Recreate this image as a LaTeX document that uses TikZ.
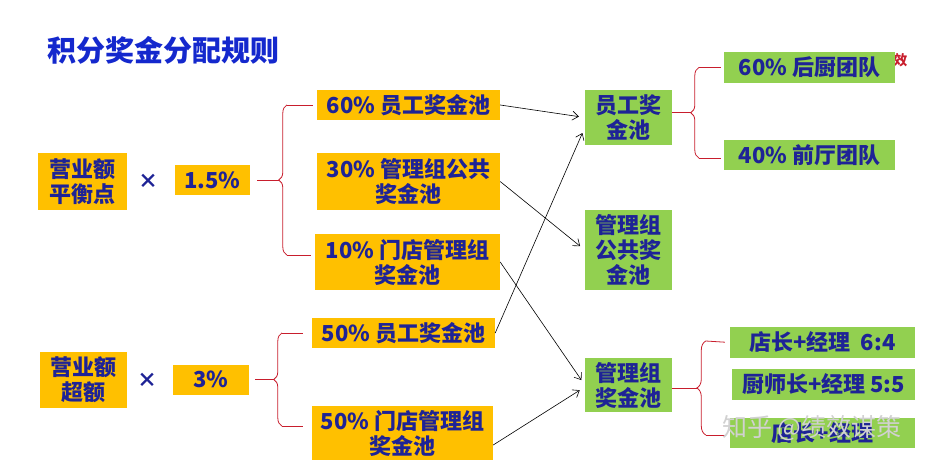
\documentclass[tikz,border=0pt]{standalone}
\usepackage{fontspec}
\setmainfont{Noto Sans CJK SC}
\usepackage{tikz}
\usetikzlibrary{
	calc,
	arrows.meta,
	decorations.pathreplacing
}
\definecolor{PoolOrange}{RGB}{255,192,0}
\definecolor{PoolGreen}{RGB}{146,208,80}
\definecolor{RuleNavy}{RGB}{30,35,150}
\definecolor{TitleBlue}{RGB}{20,40,205}
\definecolor{BraceRed}{RGB}{200,30,45}

\begin{document}
\begin{tikzpicture}[
	x=1pt,
	y=1pt,
	poolbox/.style={
		text=RuleNavy,
		font=\fontsize{22}{25}\selectfont\bfseries,
		align=center,
		inner sep=0pt,
		minimum height=30pt
	},
	orangebox/.style={poolbox,fill=PoolOrange},
	greenbox/.style={poolbox,fill=PoolGreen},
	bracered/.style={
		draw=BraceRed,
		line width=0.8pt
	},
	flow/.style={
		->,
		>={Straight Barb[length=6pt,width=9pt]},
		black,
		line width=0.6pt,
		shorten >=6pt
	}
]
				
				\useasboundingbox (0,0) rectangle (936,467);
				
				% title
				\node[
				anchor=west,
				text=TitleBlue,
				font=\fontsize{29}{32}\selectfont\bfseries
				]
				(title) at (44,417)
				{积分奖金分配规则};
				
				% left column
				\node[orangebox,minimum width=89pt,minimum height=57pt] (pt1) at (82.5,285.5) {营业额\\平衡点};
				\node[text=RuleNavy,font=\fontsize{20}{22}\selectfont\bfseries] (x1) at (148,286) {×};
				\node[orangebox,minimum width=75pt] (r1) at (212.5,287) {1.5\%};
				
				\node[orangebox,minimum width=87pt,minimum height=56pt] (pt2) at (83.5,87) {营业额\\超额};
				\node[text=RuleNavy,font=\fontsize{20}{22}\selectfont\bfseries] (x2) at (147,87) {×};
				\node[orangebox,minimum width=76pt] (r2) at (211,87.5) {3\%};
				
				% split shares
				\node[orangebox,minimum width=183pt] (a1) at (408.5,362) {60\% 员工奖金池};
				\node[orangebox,minimum width=183pt,minimum height=57pt] (a2) at (408.5,285.5) {30\% 管理组公共\\奖金池};
				\node[orangebox,minimum width=185pt,minimum height=56pt] (a3) at (407.5,205) {10\% 门店管理组\\奖金池};
				\node[orangebox,minimum width=183pt] (b1) at (403.5,134) {50\% 员工奖金池};
				\node[orangebox,minimum width=181pt,minimum height=54pt] (b2) at (402.5,34) {50\% 门店管理组\\奖金池};
				
				% pools
				\node[greenbox,minimum width=87pt,minimum height=55pt] (g1) at (628.5,349.5) {员工奖\\金池};
				\node[greenbox,minimum width=87pt,minimum height=80pt] (g2) at (628.5,217) {管理组\\公共奖\\金池};
				\node[greenbox,minimum width=87pt,minimum height=54pt] (g3) at (628.5,82) {管理组\\奖金池};
				
				% teams
				\node[
				anchor=east,
				text=BraceRed,
				font=\fontsize{14}{15}\selectfont\bfseries
				]
				(tag) at (911,407)
				{绩效};
				\node[greenbox,minimum width=171pt,minimum height=31pt] (c1) at (809.5,399.5) {60\% 后厨团队};
				\node[greenbox,minimum width=171pt] (c2) at (809.5,312) {40\% 前厅团队};
				\node[greenbox,minimum width=185pt,minimum height=31pt] (d1) at (822.5,124.5) {店长+经理\ \ 6:4};
				\node[greenbox,minimum width=183pt,minimum height=31pt] (d2) at (823.5,82.5) {厨师长+经理 5:5};
				\node[greenbox,minimum width=185pt] (d3) at (822.5,34) {店长+经理};
				
				% braces
				\coordinate (k1t) at ($(a1.west)+(-30,0)$);
				\coordinate (k1b) at ($(a3.west)+(-28,7)$);
				\coordinate (k1c) at ($(k1b)!0.5!(k1t)+(-8,0)$);
				\draw[bracered,decorate,decoration={brace,amplitude=8pt}] (k1b) -- (k1t);
				\draw[bracered,shorten >=4pt] (k1t) -- (a1.west);
				\draw[bracered,shorten >=4pt] (k1b) -- (k1b -| a3.west);
				\draw[bracered,shorten <=7pt] (r1.east) -- (k1c);
				
				\coordinate (k2t) at ($(b1.west)+(-30,0)$);
				\coordinate (k2b) at ($(b2.west)+(-30,7)$);
				\coordinate (k2c) at ($(k2b)!0.5!(k2t)+(-8,0)$);
				\draw[bracered,decorate,decoration={brace,amplitude=8pt}] (k2b) -- (k2t);
				\draw[bracered,shorten >=9pt] (k2t) -- (b1.west);
				\draw[bracered,shorten >=9pt] (k2b) -- (k2b -| b2.west);
				\draw[bracered,shorten <=6pt] (r2.east) -- (k2c);
				
				\coordinate (k3t) at ($(c1.west)+(-25,0)$);
				\coordinate (k3b) at ($(c2.west)+(-25,-3)$);
				\coordinate (k3c) at ($(k3b)!0.5!(k3t)+(-8,0)$);
				\draw[bracered,decorate,decoration={brace,amplitude=8pt}] (k3b) -- (k3t);
				\draw[bracered,shorten >=3pt] (k3t) -- (c1.west);
				\draw[bracered,shorten >=3pt] (k3b) -- (k3b -| c2.west);
				\draw[bracered] (g1.east |- k3c) -- (k3c);
				
				\coordinate (k4t) at ($(d1.west)+(-24,1.5)$);
				\coordinate (k4b) at ($(d3.west)+(-24,-2)$);
				\coordinate (k4c) at ($(k4b)!0.5!(k4t)+(-9,0)$);
				\draw[bracered,decorate,decoration={brace,amplitude=9pt}] (k4b) -- (k4t);
				\draw[bracered,shorten >=5pt] (k4t) -- (d1.west);
				\draw[bracered,shorten >=5pt] (k4b) -- (k4b -| d3.west);
				\draw[bracered] (g3.east |- k4c) -- (k4c);
				
				% flows into the pools
				\draw[flow] (a1.east) -- (g1.west);
				\draw[flow] (a2.east) -- (g2.west);
				\draw[flow] (a3.east) -- (g3.west);
				\draw[flow] (b1.east) -- ($(g1.west)+(0,-10)$);
				\draw[flow] ($(b2.east)+(0,-12)$) -- ($(g3.west)+(0,-2)$);
				
				% watermark
				\node[text=black!18,font=\fontsize{25}{27}\selectfont] (wm) at (812,39) {知乎 @绩效谋策};
				
			\end{tikzpicture}
\end{document}
